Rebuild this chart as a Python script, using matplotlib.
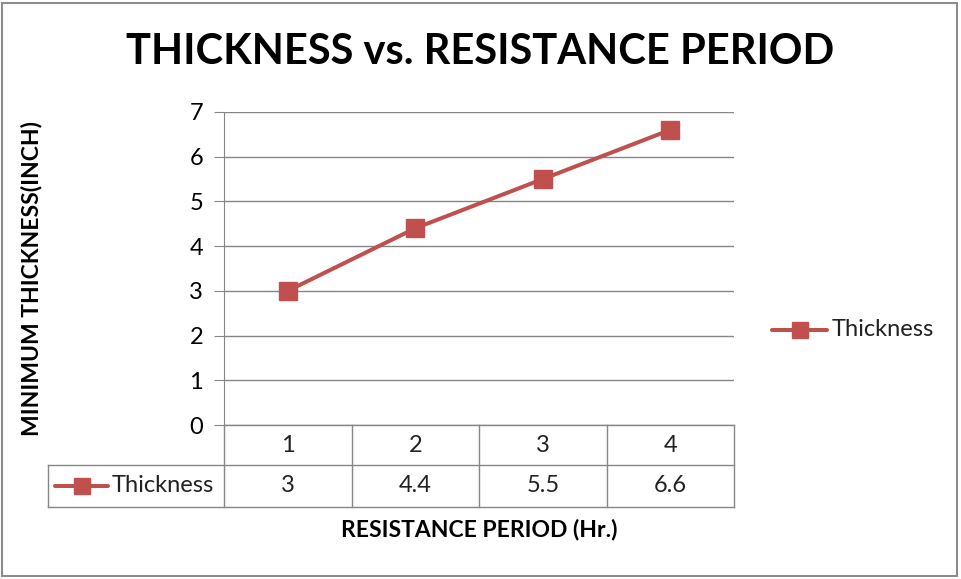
import matplotlib

matplotlib.use("Agg")
import matplotlib.pyplot as plt
from matplotlib.lines import Line2D
from matplotlib.patches import Rectangle
from matplotlib.transforms import blended_transform_factory

periods = [1, 2, 3, 4]
thickness = [3, 4.4, 5.5, 6.6]
series_name = "Thickness"
y_ticks = [0, 1, 2, 3, 4, 5, 6, 7]

RED = "#C0504D"
GRID = "#868686"
FONT = "Lato"
TXT = 17

W, H = 961, 579
fig = plt.figure(figsize=(W / 100, H / 100), dpi=100)
fig.patch.set_facecolor("white")
fig.patches.append(Rectangle((2 / W, 3 / H), 955 / W, 573 / H, transform=fig.transFigure,
                             fill=False, edgecolor="#8c8c8c", lw=1.5))


def px_ax(left, top, right, bottom):
    return [left / W, 1 - bottom / H, (right - left) / W, (bottom - top) / H]


ax = fig.add_axes(px_ax(224, 112, 734, 425))
ax.plot(periods, thickness, color=RED, lw=2.9, marker="s", markersize=13,
        markerfacecolor=RED, markeredgecolor=RED, label=series_name)
ax.set_xlim(0.5, len(periods) + 0.5)
ax.set_ylim(0, 7)
ax.set_yticks(y_ticks)
ax.set_xticks([])
ax.grid(axis="y", color=GRID, lw=1)
for side in ("top", "right", "bottom"):
    ax.spines[side].set_visible(False)
ax.spines["left"].set_color(GRID)
ax.tick_params(axis="y", length=7, color=GRID, labelsize=TXT, pad=8)
for lab in ax.get_yticklabels():
    lab.set_fontfamily(FONT)

# data table under the plot
tr = blended_transform_factory(ax.transData, ax.transAxes)
r1 = -40 / 313
r2 = -82 / 313
left_box = (48 - 224) / 510
x_lo, x_hi = 0.5, len(periods) + 0.5
kw = dict(color=GRID, lw=1, clip_on=False)
ax.add_line(Line2D([x_lo, x_hi], [0, 0], transform=tr, **kw))
for b in [p - 0.5 for p in periods] + [x_hi]:
    ax.add_line(Line2D([b, b], [0, r2], transform=tr, **kw))
ax.add_line(Line2D([left_box, 1], [r1, r1], transform=ax.transAxes, **kw))
ax.add_line(Line2D([left_box, 1], [r2, r2], transform=ax.transAxes, **kw))
ax.add_line(Line2D([left_box, left_box], [r1, r2], transform=ax.transAxes, **kw))
for p, v in zip(periods, thickness):
    ax.text(p, r1 / 2, str(p), transform=tr, ha="center", va="center",
            fontsize=TXT, fontfamily=FONT, color="#222222")
    ax.text(p, (r1 + r2) / 2, f"{v:g}", transform=tr, ha="center", va="center",
            fontsize=TXT, fontfamily=FONT, color="#222222")

# legend key inside table
yk = (r1 + r2) / 2
kx0, kx1 = (55 - 224) / 510, (108 - 224) / 510
ax.add_line(Line2D([kx0, kx1], [yk, yk], transform=ax.transAxes, color=RED, lw=2.9,
                   clip_on=False, solid_capstyle="round"))
ax.add_line(Line2D([(kx0 + kx1) / 2], [yk], transform=ax.transAxes, color=RED, marker="s",
                   markersize=11, clip_on=False))
ax.text((112 - 224) / 510, yk, series_name, transform=ax.transAxes, ha="left", va="center",
        fontsize=TXT, fontfamily=FONT, color="#222222")

# right legend
fig.add_artist(Line2D([772 / W, 827 / W], [1 - 330 / H] * 2, color=RED, lw=2.9,
                      solid_capstyle="round"))
fig.add_artist(Line2D([800 / W], [1 - 330 / H], color=RED, marker="s", markersize=11))
fig.text(832 / W, 1 - 330 / H, series_name, ha="left", va="center", fontsize=TXT,
         fontfamily=FONT, color="#222222")

fig.text(480 / W, 1 - 52 / H, "THICKNESS vs. RESISTANCE PERIOD", ha="center", va="center",
         fontsize=30, fontweight="bold", fontfamily=FONT)
fig.text(32 / W, 1 - 279 / H, "MINIMUM THICKNESS(INCH)", ha="center", va="center",
         rotation=90, fontsize=16.5, fontweight="bold", fontfamily=FONT)
fig.text(479 / W, 1 - 530 / H, "RESISTANCE PERIOD (Hr.)", ha="center", va="center",
         fontsize=16.5, fontweight="bold", fontfamily=FONT)

fig.savefig("out.png", dpi=100)
